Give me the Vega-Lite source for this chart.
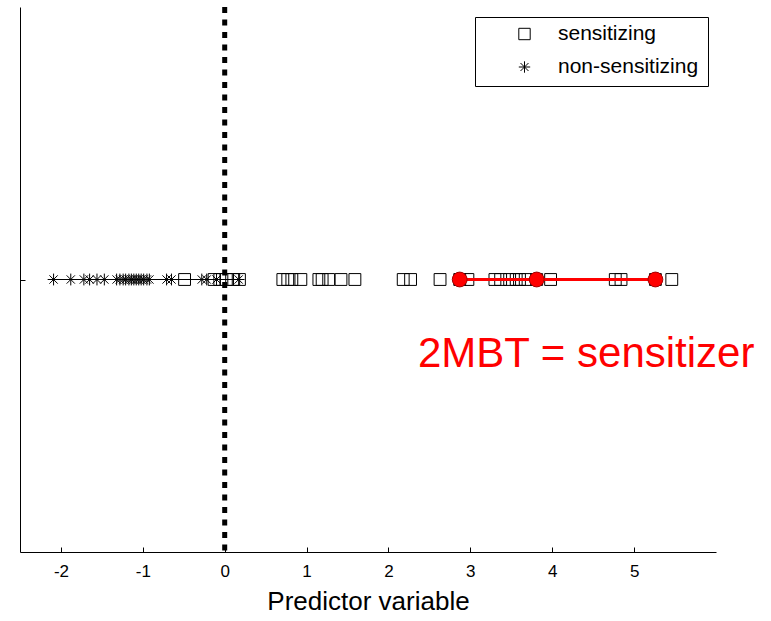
{
  "$schema": "https://vega.github.io/schema/vega-lite/v6.json",
  "width": 696,
  "height": 545,
  "autosize": {"type": "none"},
  "padding": {"left": 20, "top": 7, "right": 55, "bottom": 69},
  "background": "white",
  "config": {
    "view": {"stroke": null},
    "font": "Liberation Sans",
    "axis": {"grid": false, "domainColor": "black", "tickColor": "black", "labelColor": "black", "titleColor": "black", "labelFont": "Liberation Sans", "titleFont": "Liberation Sans", "titleFontWeight": "normal"}
  },
  "datasets": {
    "pts": [
      {"x": -0.49, "y": 1, "class": "sensitizing"}, {"x": -0.13, "y": 1, "class": "sensitizing"}, {"x": -0.06, "y": 1, "class": "sensitizing"},
      {"x": 0.02, "y": 1, "class": "sensitizing"}, {"x": 0.11, "y": 1, "class": "sensitizing"}, {"x": 0.18, "y": 1, "class": "sensitizing"},
      {"x": 0.71, "y": 1, "class": "sensitizing"}, {"x": 0.77, "y": 1, "class": "sensitizing"}, {"x": 0.82, "y": 1, "class": "sensitizing"},
      {"x": 0.93, "y": 1, "class": "sensitizing"}, {"x": 1.15, "y": 1, "class": "sensitizing"}, {"x": 1.19, "y": 1, "class": "sensitizing"},
      {"x": 1.27, "y": 1, "class": "sensitizing"}, {"x": 1.42, "y": 1, "class": "sensitizing"}, {"x": 1.59, "y": 1, "class": "sensitizing"},
      {"x": 2.18, "y": 1, "class": "sensitizing"}, {"x": 2.27, "y": 1, "class": "sensitizing"}, {"x": 2.63, "y": 1, "class": "sensitizing"},
      {"x": 2.87, "y": 1, "class": "sensitizing"}, {"x": 2.97, "y": 1, "class": "sensitizing"}, {"x": 3.30, "y": 1, "class": "sensitizing"},
      {"x": 3.37, "y": 1, "class": "sensitizing"}, {"x": 3.48, "y": 1, "class": "sensitizing"}, {"x": 3.56, "y": 1, "class": "sensitizing"},
      {"x": 3.60, "y": 1, "class": "sensitizing"}, {"x": 3.67, "y": 1, "class": "sensitizing"}, {"x": 3.81, "y": 1, "class": "sensitizing"},
      {"x": 3.98, "y": 1, "class": "sensitizing"}, {"x": 4.77, "y": 1, "class": "sensitizing"}, {"x": 4.84, "y": 1, "class": "sensitizing"},
      {"x": 5.26, "y": 1, "class": "sensitizing"}, {"x": 5.46, "y": 1, "class": "sensitizing"},
      {"x": -2.09, "y": 1, "class": "non-sensitizing"}, {"x": -1.88, "y": 1, "class": "non-sensitizing"}, {"x": -1.72, "y": 1, "class": "non-sensitizing"},
      {"x": -1.65, "y": 1, "class": "non-sensitizing"}, {"x": -1.56, "y": 1, "class": "non-sensitizing"}, {"x": -1.47, "y": 1, "class": "non-sensitizing"},
      {"x": -1.32, "y": 1, "class": "non-sensitizing"}, {"x": -1.28, "y": 1, "class": "non-sensitizing"}, {"x": -1.24, "y": 1, "class": "non-sensitizing"},
      {"x": -1.21, "y": 1, "class": "non-sensitizing"}, {"x": -1.17, "y": 1, "class": "non-sensitizing"}, {"x": -1.14, "y": 1, "class": "non-sensitizing"},
      {"x": -1.11, "y": 1, "class": "non-sensitizing"}, {"x": -1.08, "y": 1, "class": "non-sensitizing"}, {"x": -1.05, "y": 1, "class": "non-sensitizing"},
      {"x": -1.02, "y": 1, "class": "non-sensitizing"}, {"x": -0.99, "y": 1, "class": "non-sensitizing"}, {"x": -0.95, "y": 1, "class": "non-sensitizing"},
      {"x": -0.92, "y": 1, "class": "non-sensitizing"}, {"x": -0.71, "y": 1, "class": "non-sensitizing"}, {"x": -0.65, "y": 1, "class": "non-sensitizing"},
      {"x": -0.28, "y": 1, "class": "non-sensitizing"}, {"x": -0.22, "y": 1, "class": "non-sensitizing"}, {"x": -0.10, "y": 1, "class": "non-sensitizing"},
      {"x": 0.17, "y": 1, "class": "non-sensitizing"}
    ],
    "red": [{"x": 2.87, "y": 1}, {"x": 3.81, "y": 1}, {"x": 5.26, "y": 1}],
    "zero": [{"x": 0}],
    "label": [{"x": 2.36, "y": 0.68, "text": "2MBT = sensitizer"}]
  },
  "layer": [
    {
      "data": {"name": "pts"},
      "transform": [{"filter": "datum['class'] == 'non-sensitizing'"}],
      "mark": {"type": "line", "color": "black", "strokeWidth": 1},
      "encoding": {
        "x": {"field": "x", "type": "quantitative", "scale": {"domain": [-2.5, 6], "nice": false, "zero": false}},
        "y": {"field": "y", "type": "quantitative", "scale": {"domain": [0, 2]}}
      }
    },
    {
      "data": {"name": "pts"},
      "mark": {"type": "point", "filled": false, "strokeWidth": 1, "opacity": 1, "size": 140, "color": "black"},
      "encoding": {
        "x": {
          "field": "x", "type": "quantitative",
          "scale": {"domain": [-2.5, 6], "nice": false, "zero": false},
          "axis": {"values": [-2, -1, 0, 1, 2, 3, 4, 5], "labelExpr": "toString(datum.value)", "tickSize": -5, "labelPadding": 16, "labelFontSize": 17, "title": "Predictor variable", "titleFontSize": 26, "titlePadding": 9, "domainWidth": 1}
        },
        "y": {
          "field": "y", "type": "quantitative",
          "scale": {"domain": [0, 2]},
          "axis": {"values": [1], "tickSize": -5, "labels": false, "title": null, "domainWidth": 1}
        },
        "shape": {
          "field": "class", "type": "nominal",
          "scale": {"domain": ["sensitizing", "non-sensitizing"], "range": ["square", "M-1,0L1,0M0,-1L0,1M-0.7,-0.7L0.7,0.7M-0.7,0.7L0.7,-0.7"]},
          "legend": {
            "title": null, "orient": "none", "legendX": 455, "legendY": 10,
            "strokeColor": "black", "fillColor": "white", "padding": 9,
            "symbolOffset": 30, "labelOffset": 23, "rowPadding": 12, "clipHeight": 16, "labelFontSize": 21, "labelFont": "Liberation Sans", "labelColor": "black",
            "symbolSize": 130, "symbolStrokeColor": "black", "symbolFillColor": "transparent", "symbolStrokeWidth": 1
          }
        }
      }
    },
    {
      "data": {"name": "zero"},
      "mark": {"type": "rule", "color": "black", "strokeWidth": 5, "strokeDash": [6, 6.5]},
      "encoding": {"x": {"field": "x", "type": "quantitative"}}
    },
    {
      "data": {"name": "red"},
      "mark": {"type": "line", "color": "red", "strokeWidth": 3},
      "encoding": {
        "x": {"field": "x", "type": "quantitative"},
        "y": {"field": "y", "type": "quantitative"}
      }
    },
    {
      "data": {"name": "red"},
      "mark": {"type": "point", "filled": true, "fill": "red", "stroke": "#a00000", "strokeWidth": 1, "size": 220, "shape": "circle", "opacity": 1},
      "encoding": {
        "x": {"field": "x", "type": "quantitative"},
        "y": {"field": "y", "type": "quantitative"}
      }
    },
    {
      "data": {"name": "label"},
      "mark": {"type": "text", "color": "red", "fontSize": 42, "font": "Liberation Sans", "align": "left", "baseline": "alphabetic"},
      "encoding": {
        "x": {"field": "x", "type": "quantitative"},
        "y": {"field": "y", "type": "quantitative"},
        "text": {"field": "text"}
      }
    }
  ]
}
